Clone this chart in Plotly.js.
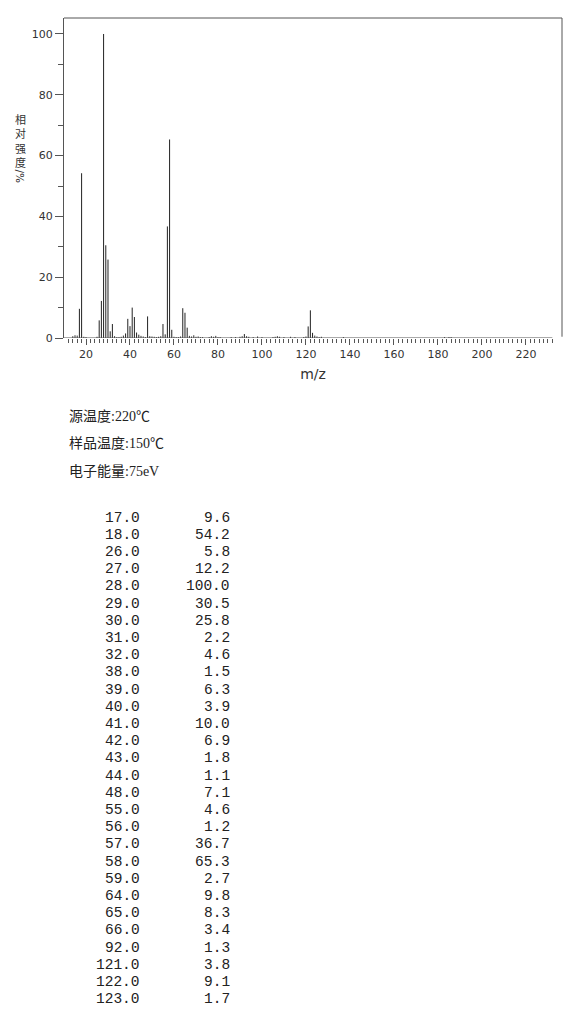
<!DOCTYPE html>
<html>
<head>
<meta charset="utf-8">
<script src="https://cdn.plot.ly/plotly-3.0.1.min.js"></script>
<style>
  html, body { margin: 0; padding: 0; background: #fff; }
  #ms { width: 570px; height: 1009px; }
</style>
</head>
<body>
<div id="ms"></div>
<script>
// Listed peaks (m/z, relative intensity %)
const peakMz = [17, 18, 26, 27, 28, 29, 30, 31, 32, 38, 39, 40, 41, 42, 43, 44, 48,
                55, 56, 57, 58, 59, 64, 65, 66, 92, 121, 122, 123];
const peakInt = [9.6, 54.2, 5.8, 12.2, 100.0, 30.5, 25.8, 2.2, 4.6, 1.5, 6.3, 3.9, 10.0,
                 6.9, 1.8, 1.1, 7.1, 4.6, 1.2, 36.7, 65.3, 2.7, 9.8, 8.3, 3.4, 1.3, 3.8, 9.1, 1.7];

// Weak peaks below 1 %, shown in the spectrum only
const weakMz = [14, 15, 16, 19, 20, 25, 33, 34, 35, 36, 37, 45, 46, 47, 49, 50, 51, 52, 53, 54,
                60, 61, 62, 63, 67, 68, 69, 70, 71, 72, 73, 76, 77, 78, 79, 80, 81, 86, 88, 90,
                91, 93, 94, 96, 98, 100, 105, 106, 107, 108, 110, 113, 115, 119, 120, 124, 125,
                126, 127, 137, 183, 185, 186];
const weakInt = [0.6, 0.9, 0.8, 0.4, 0.3, 0.4, 0.6, 0.3, 0.3, 0.4, 0.8, 0.7, 0.5, 0.3, 0.6, 0.5,
                 0.4, 0.3, 0.4, 0.6, 0.4, 0.3, 0.3, 0.5, 0.7, 0.5, 0.9, 0.4, 0.5, 0.3, 0.3, 0.3,
                 0.6, 0.4, 0.7, 0.3, 0.3, 0.3, 0.3, 0.4, 0.6, 0.6, 0.4, 0.3, 0.5, 0.3, 0.3, 0.4,
                 0.6, 0.4, 0.3, 0.4, 0.3, 0.3, 0.5, 0.8, 0.5, 0.3, 0.4, 0.3, 0.3, 0.3, 0.3];

// Axis ticks
const xMajorTicks = [20, 40, 60, 80, 100, 120, 140, 160, 180, 200, 220];
const xMinorTicks = [];
for (let v = 12; v <= 232; v += 2) xMinorTicks.push(v);
const yMajorTicks = [0, 20, 40, 60, 80, 100];
const yMinorTicks = [10, 30, 50, 70, 90];

// Acquisition conditions
const conditions = ['源温度:220℃', '样品温度:150℃', '电子能量:75eV'];
const yTitleChars = ['相', '对', '强', '度'];

// Stick spectrum: one vertical segment per peak
function sticks(mz, inten) {
  const xs = [], ys = [];
  mz.forEach((m, i) => { xs.push(m, m, null); ys.push(0, inten[i], null); });
  return { xs, ys };
}
const weak = sticks(weakMz, weakInt);
const strong = sticks(peakMz, peakInt);

const traces = [
  { x: weak.xs, y: weak.ys, type: 'scatter', mode: 'lines',
    line: { color: '#333', width: 1 }, hoverinfo: 'skip', showlegend: false },
  { x: strong.xs, y: strong.ys, type: 'scatter', mode: 'lines',
    line: { color: '#222', width: 1 }, hoverinfo: 'skip', showlegend: false }
];

// Plot area geometry in page pixels
const W = 570, H = 1009;
const L = 64, R = 8, T = 18, B = 671;
const plotW = W - L - R, plotH = H - T - B;
const px = p => (p - L) / plotW;
const py = p => (H - B - p) / plotH;

const annotations = [];

// vertical y-axis title: stacked characters, then the unit turned sideways
annotations.push({ xref: 'paper', yref: 'paper', x: px(20), y: py(110.5),
  text: yTitleChars.join('<br>'), showarrow: false, xanchor: 'center', yanchor: 'top',
  align: 'center', borderpad: 0, borderwidth: 0,
  font: { family: 'Noto Sans CJK SC', size: 11, color: '#333' } });
annotations.push({ xref: 'paper', yref: 'paper', x: px(20), y: py(176.5),
  text: '/%', textangle: 90, showarrow: false, xanchor: 'center', yanchor: 'middle',
  borderpad: 0, borderwidth: 0,
  font: { family: 'DejaVu Sans', size: 10.5, color: '#333' } });

// conditions block
const condY = [416, 443.5, 471];
conditions.forEach((t, i) => {
  annotations.push({ xref: 'paper', yref: 'paper', x: px(67), y: py(condY[i]),
    text: t, showarrow: false, xanchor: 'left', yanchor: 'middle',
    font: { family: 'Liberation Serif, Noto Sans CJK SC', size: 14, color: '#222' } });
});

// peak table
const rowTop = 517.5, rowStep = 17.2;
const monoFont = { family: 'Liberation Mono, DejaVu Sans Mono, monospace', size: 14.5, color: '#222' };
peakMz.forEach((m, i) => {
  const yy = py(rowTop + i * rowStep);
  annotations.push({ xref: 'paper', yref: 'paper', x: px(140), y: yy,
    text: m.toFixed(1), showarrow: false, xanchor: 'right', yanchor: 'middle',
    borderpad: 0, borderwidth: 0, font: monoFont });
  annotations.push({ xref: 'paper', yref: 'paper', x: px(230), y: yy,
    text: peakInt[i].toFixed(1), showarrow: false, xanchor: 'right', yanchor: 'middle',
    borderpad: 0, borderwidth: 0, font: monoFont });
});

const frame = '#555';
const shapes = [
  // top border
  { type: 'line', xref: 'paper', yref: 'paper', x0: 0, x1: 1, y0: 1, y1: 1,
    line: { color: frame, width: 1 } },
  // right border
  { type: 'line', xref: 'paper', yref: 'paper', x0: 1, x1: 1, y0: 0.004, y1: 1,
    line: { color: frame, width: 1 } },
  // baseline (m/z axis)
  { type: 'line', xref: 'x', yref: 'y', x0: 10, x1: 232, y0: 0, y1: 0,
    line: { color: frame, width: 1 } }
];

const tickFont = { family: 'DejaVu Sans', size: 11, color: '#333' };

const layout = {
  width: W, height: H,
  margin: { l: L, r: R, t: T, b: B, pad: 0 },
  paper_bgcolor: '#fff', plot_bgcolor: '#fff',
  showlegend: false,
  xaxis: {
    range: [10, 236.4], showgrid: false, zeroline: false, showline: false,
    tickmode: 'array', tickvals: xMajorTicks, ticks: 'outside', ticklen: 6,
    tickcolor: frame, tickwidth: 1, tickfont: tickFont,
    minor: { tickmode: 'array', tickvals: xMinorTicks, ticks: 'outside', ticklen: 4,
             tickcolor: frame, tickwidth: 1, showgrid: false },
    title: { text: 'm/z', font: { family: 'DejaVu Sans', size: 14, color: '#333' }, standoff: 8 }
  },
  yaxis: {
    range: [0, 105.26], showgrid: false, zeroline: false, showline: true,
    linecolor: frame, linewidth: 1,
    tickmode: 'array', tickvals: yMajorTicks, ticks: 'outside', ticklen: 8,
    tickcolor: frame, tickwidth: 1, tickfont: tickFont,
    minor: { tickmode: 'array', tickvals: yMinorTicks, ticks: 'outside', ticklen: 5,
             tickcolor: frame, tickwidth: 1, showgrid: false }
  },
  shapes: shapes,
  annotations: annotations
};

Plotly.newPlot('ms', traces, layout, { displayModeBar: false, staticPlot: true });
</script>
</body>
</html>
